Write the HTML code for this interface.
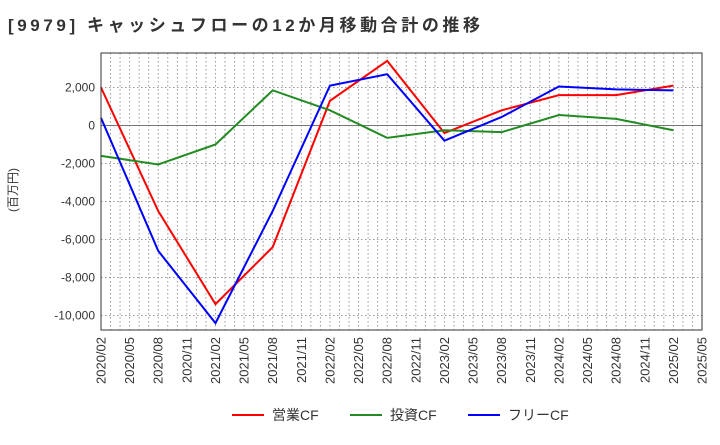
<!DOCTYPE html>
<html><head><meta charset="utf-8"><style>
body{margin:0;background:#fff;font-family:"Liberation Sans","Noto Sans CJK JP",sans-serif}
</style></head><body>
<svg id="c" width="720" height="440" xmlns="http://www.w3.org/2000/svg" font-family="Liberation Sans, Noto Sans CJK JP, sans-serif">
<text x="8" y="31" font-size="17" font-weight="bold" fill="#333" textLength="472" lengthAdjust="spacing">[9979]  キャッシュフローの12か月移動合計の推移</text>
<text transform="translate(17,190) rotate(-90)" font-size="12" fill="#333" text-anchor="middle">(百万円)</text>
<g id="grid"></g><g id="series"></g><g id="axes"></g>
</svg>
<script>
const categories=["2020/02","2020/08","2021/02","2021/08","2022/02","2022/08","2023/02","2023/08","2024/02","2024/08","2025/02"];
const opCF=[2000,-4500,-9400,-6400,1300,3400,-400,800,1600,1600,2100];
const invCF=[-1600,-2050,-1000,1850,800,-650,-250,-350,550,350,-250];
const freeCF=[400,-6600,-10400,-4500,2100,2700,-800,450,2050,1900,1850];
const yTicks=[2000,0,-2000,-4000,-6000,-8000,-10000];
const xTicks=["2020/02","2020/05","2020/08","2020/11","2021/02","2021/05","2021/08","2021/11","2022/02","2022/05","2022/08","2022/11","2023/02","2023/05","2023/08","2023/11","2024/02","2024/05","2024/08","2024/11","2025/02","2025/05"];
const L=101,R=702,T=53,B=330,NS="http://www.w3.org/2000/svg";
function mi(s){const[a,b]=s.split("/").map(Number);return(a-2020)*12+b-2;}
const X=s=>L+mi(s)*(R-L)/63;
const Y=v=>125.5-v*0.019;
function el(t,a,p){const e=document.createElementNS(NS,t);for(const k in a)e.setAttribute(k,a[k]);p.appendChild(e);return e;}
const g=document.getElementById("grid"),ax=document.getElementById("axes"),sg=document.getElementById("series");
for(let m=1;m<63;m++){const x=L+m*(R-L)/63;const ln=el("line",{x1:x,x2:x,y1:T,y2:B,stroke:"#999","stroke-dasharray":"1.5,2.5","stroke-width":1},g);

}
yTicks.forEach(v=>{const y=Y(v);const ln=el("line",{x1:L,x2:R,y1:y,y2:y,stroke:v===0?"#777":"#999","stroke-dasharray":v===0?"":"1.5,2.5","stroke-width":1},g);


const t=el("text",{x:L-6,y:y+4,"font-size":12,"text-anchor":"end",fill:"#333"},ax);t.textContent=v.toLocaleString("en-US");

});
xTicks.forEach(s=>{const x=X(s);const t=el("text",{transform:`translate(${x+4.5},${B+7}) rotate(-90)`,"font-size":13,"text-anchor":"end",fill:"#333"},ax);t.textContent=s;

});
const fr=el("rect",{x:L,y:T,width:R-L,height:B-T,fill:"none",stroke:"#333","stroke-width":1},ax);


[[opCF,"#f00","operating-cf-line"],[invCF,"#228b22","investing-cf-line"],[freeCF,"#00f","free-cf-line"]].forEach(([d,c,n])=>{
const p=el("polyline",{points:d.map((v,i)=>X(categories[i])+","+Y(v)).join(" "),fill:"none",stroke:c,"stroke-width":2},sg);

});
[["営業CF","#f00",232],["投資CF","#228b22",350],["フリーCF","#00f",468]].forEach(([lab,c,x])=>{
const gg=el("g",{},ax);


el("line",{x1:x,x2:x+32,y1:415,y2:415,stroke:c,"stroke-width":2},gg);
const t=el("text",{x:x+40,y:420,"font-size":14,fill:"#333"},gg);t.textContent=lab;});
</script>
</body></html>
